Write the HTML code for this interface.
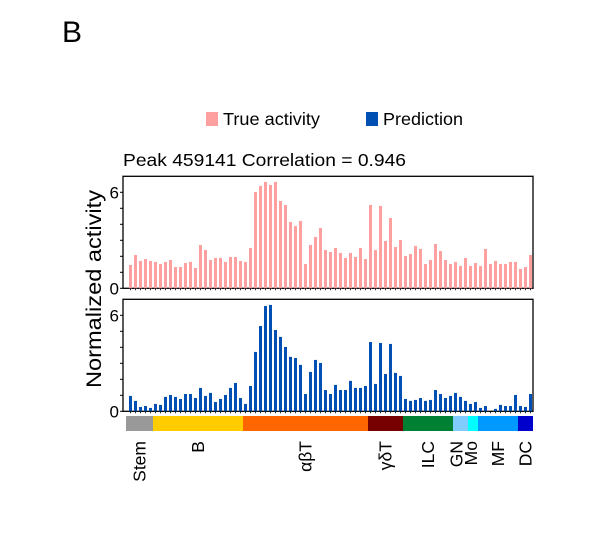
<!DOCTYPE html>
<html><head><meta charset="utf-8"><style>
body{margin:0;background:#fff;}
svg{display:block;font-family:"Liberation Sans",Arial,sans-serif;}
</style></head><body>
<svg id="chart" width="602" height="555" viewBox="0 0 602 555">
<text x="62" y="42" font-size="30">B</text>
<rect x="206" y="112" width="12" height="14" fill="#ffa0a0"/>
<text x="223" y="125" font-size="17.5" textLength="97" lengthAdjust="spacingAndGlyphs">True activity</text>
<rect x="366" y="112" width="12" height="14" fill="#0050b4"/>
<text x="383" y="125" font-size="17.5" textLength="80" lengthAdjust="spacingAndGlyphs">Prediction</text>
<text x="123" y="166" font-size="17.5" textLength="283" lengthAdjust="spacingAndGlyphs">Peak 459141 Correlation = 0.946</text>
<text transform="translate(101,289) rotate(-90)" text-anchor="middle" font-size="21" textLength="198" lengthAdjust="spacingAndGlyphs">Normalized activity</text>
<g id="top"></g><g id="bot"></g><g id="strip"></g><g id="labels"></g>
</svg>
<script>
const trueVals=[1.46,2.08,1.71,1.83,1.71,1.65,1.52,1.65,1.77,1.33,1.33,1.58,1.65,1.27,2.71,2.40,1.77,1.90,1.90,1.65,1.96,1.96,1.71,1.65,2.52,6.02,6.40,6.65,6.46,6.65,5.46,5.21,4.15,3.90,4.21,1.52,2.71,3.21,3.77,2.40,
2.27,2.52,2.21,1.90,2.21,1.96,2.52,1.83,5.21,2.40,5.15,2.96,4.40,2.58,3.02,2.02,2.15,2.65,2.46,1.52,1.77,2.77,2.33,1.77,1.52,1.65,1.40,1.90,1.40,1.58,1.40,2.46,1.52,1.71,1.52,1.52,1.65,1.65,1.21,1.33,2.08];
const predVals=[0.96,0.65,0.27,0.33,0.21,0.46,0.40,0.90,1.02,0.90,0.77,1.08,1.08,0.83,1.46,0.96,1.15,0.58,0.77,1.02,1.46,1.77,0.83,0.46,1.58,3.71,5.33,6.58,6.65,5.08,4.65,4.02,3.40,3.33,2.90,1.08,2.46,3.21,3.02,1.33,
1.08,1.65,1.33,1.33,1.90,1.46,1.46,1.58,4.33,1.71,4.27,2.33,4.21,2.40,2.21,0.77,0.65,0.71,0.83,0.65,0.71,1.33,1.08,0.83,0.96,1.15,0.90,0.65,0.46,0.58,0.21,0.33,0.0,0.15,0.40,0.33,0.33,1.02,0.33,0.27,1.08];
const yTicks=[0,6];
const groupNames=["Stem","B","\u03b1\u03b2T","\u03b3\u03b4T","ILC","GN","Mo","MF","DC"];
const groupStart=[0,5,23,48,55,65,68,70,78];
const groupEnd=[5,23,48,55,65,68,70,78,81];
const groupColors=["#999999","#ffcc00","#ff6600","#770000","#008033","#80ccff","#00ffff","#0099ff","#0000cc"];
const NS="http://www.w3.org/2000/svg";
const X0=126,X1=533,STEP=5;
function xc(i){return 130.5+i*STEP;}
function mk(t,a,p){const e=document.createElementNS(NS,t);for(const k in a)e.setAttribute(k,a[k]);p.appendChild(e);return e;}
function panel(g,vals,color,top,zero,name){
  const ys=v=>zero-v*16;
  mk('rect',{x:X0-3,y:top,width:X1-X0+3,height:zero-top,fill:'none',stroke:'#000','stroke-width':1.3},g);
  vals.forEach((v,i)=>{
    const r=mk('rect',{x:xc(i)-1.5,y:ys(v),width:3,height:zero-ys(v),fill:color},g);
    
    
    mk('line',{x1:xc(i),x2:xc(i),y1:zero,y2:zero+2,stroke:'#000','stroke-width':0.8},g);
  });
  for(let t=0;t<=6;t++)mk('line',{x1:X0-3,x2:X0-6,y1:ys(t),y2:ys(t),stroke:'#000','stroke-width':1},g);
  yTicks.forEach(t=>{const tx=mk('text',{x:X0-7,y:ys(t)+6,'text-anchor':'end','font-size':17},g);tx.textContent=t;
    
    });
}
panel(document.getElementById('top'),trueVals,'#ffa0a0',176.3,288.3,'true');
panel(document.getElementById('bot'),predVals,'#0050b4',299.3,411.3,'pred');
const sg=document.getElementById('strip'),lg=document.getElementById('labels');
groupNames.forEach((n,k)=>{
  const xa=k==0?X0:xc(groupStart[k])-2.5, xb=k==groupNames.length-1?X1:xc(groupEnd[k])-2.5;
  const r=mk('rect',{x:xa,y:416,width:xb-xa,height:15,fill:groupColors[k]},sg);
  
  
  let cx=(xa+xb)/2; if(n=="GN")cx-=4; if(n=="Mo")cx-=2;
  const t=mk('text',{transform:`translate(${cx+6},441) rotate(-90)`,'text-anchor':'end','font-size':17.5},lg);
  t.textContent=n;
  
  
});
</script>
</body></html>
